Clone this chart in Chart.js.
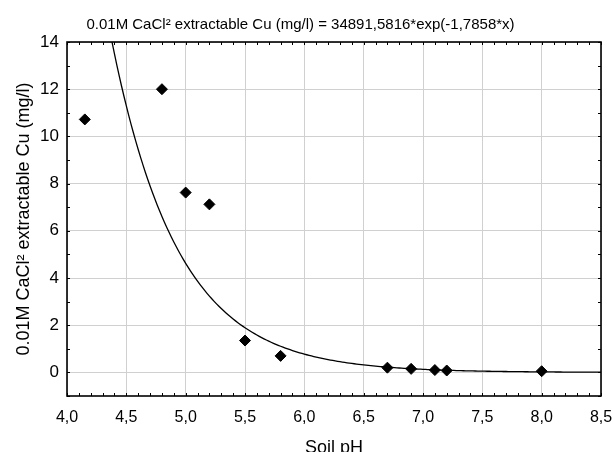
<!DOCTYPE html>
<html>
<head>
<meta charset="utf-8">
<script src="https://cdn.jsdelivr.net/npm/chart.js@4.4.1/dist/chart.umd.min.js"></script>
<style>
  html, body { margin: 0; padding: 0; background: #fff; }
  #wrap { width: 613px; height: 452px; }
</style>
</head>
<body>
<div id="wrap"><canvas id="c"></canvas></div>
<script>
// observed points (soil pH vs extractable Cu)
const soilPH = [4.15, 4.8, 5.0, 5.2, 5.5, 5.8, 6.7, 6.9, 7.1, 7.2, 8.0]
const cuValues = [10.72, 12.0, 7.62, 7.12, 1.35, 0.7, 0.2, 0.15, 0.1, 0.08, 0.05]

// fitted model printed in the title: y = a*exp(-b*x)
const fitA = 34891.5816
const fitB = 1.7858

const xTicks = [4.0, 4.5, 5.0, 5.5, 6.0, 6.5, 7.0, 7.5, 8.0, 8.5]
const yTicks = [0, 2, 4, 6, 8, 10, 12, 14]

const FONT = "'Liberation Sans', Arial, sans-serif"

const points = soilPH.map((x, i) => ({ x: x, y: cuValues[i] }))

const curve = []
for (let x = 4.3; x <= 8.501; x += 0.02) {
  curve.push({ x: x, y: fitA * Math.exp(-fitB * x) })
}

const fmt = v => v.toFixed(1).replace('.', ',')

// frame + inward minor ticks, like the original graph
const framePlugin = {
  id: 'frame',
  afterDatasetsDraw(chart) {
    const { ctx, chartArea: a, scales } = chart
    const xs = scales.x, ys = scales.y
    ctx.save()
    ctx.strokeStyle = '#000'
    ctx.lineWidth = 1
    ctx.beginPath()
    for (let i = 0; i <= 45; i++) {
      const px = Math.round(xs.getPixelForValue(4 + i * 0.1)) + 0.5
      ctx.moveTo(px, a.bottom); ctx.lineTo(px, a.bottom - 3)
      ctx.moveTo(px, a.top); ctx.lineTo(px, a.top + 3)
    }
    for (let v = -1; v <= 14; v++) {
      const py = Math.round(ys.getPixelForValue(v)) + 0.5
      ctx.moveTo(a.left, py); ctx.lineTo(a.left + 3, py)
      ctx.moveTo(a.right, py); ctx.lineTo(a.right - 3, py)
    }
    ctx.stroke()
    ctx.lineWidth = 1.6
    ctx.strokeRect(a.left, a.top, a.right - a.left, a.bottom - a.top)
    ctx.restore()
  }
}

new Chart(document.getElementById('c'), {
  type: 'scatter',
  data: {
    datasets: [
      {
        label: 'fit',
        data: curve,
        showLine: true,
        borderColor: '#000',
        borderWidth: 1.3,
        pointRadius: 0,
        tension: 0
      },
      {
        label: 'Cu',
        data: points,
        pointStyle: 'rectRot',
        pointRadius: 5.5,
        backgroundColor: '#000',
        borderColor: '#000'
      }
    ]
  },
  options: {
    responsive: true,
    maintainAspectRatio: false,
    animation: false,
    layout: { padding: { left: 0, right: 12, top: 0, bottom: 0 } },
    plugins: {
      legend: { display: false },
      tooltip: { enabled: false },
      title: {
        display: true,
        text: '0.01M CaCl\u00b2 extractable Cu (mg/l) = 34891,5816*exp(-1,7858*x)',
        color: '#000',
        font: { family: FONT, size: 15, weight: 'normal' },
        padding: { top: 16, bottom: 8 }
      }
    },
    scales: {
      x: {
        type: 'linear',
        min: 4,
        max: 8.5,
        afterBuildTicks: s => { s.ticks = xTicks.map(v => ({ value: v })) },
        afterFit: s => { s.height = 56; s.paddingLeft = 0; s.paddingRight = 0 },
        grid: { color: '#d0d0d0', borderDash: [1, 1], drawTicks: false },
        border: { display: false },
        ticks: {
          color: '#000',
          padding: 12,
          font: { family: FONT, size: 16 },
          callback: v => fmt(v)
        },
        title: {
          display: true,
          text: 'Soil pH',
          color: '#000',
          font: { family: FONT, size: 18 },
          padding: { top: 0, bottom: -7 }
        }
      },
      y: {
        min: -1,
        max: 14,
        afterBuildTicks: s => { s.ticks = yTicks.map(v => ({ value: v })) },
        afterFit: s => { s.width = 67 },
        grid: { color: '#d0d0d0', borderDash: [1, 1], drawTicks: false },
        border: { display: false },
        ticks: {
          color: '#000',
          padding: 8,
          font: { family: FONT, size: 17 }
        },
        title: {
          display: true,
          text: '0.01M CaCl\u00b2 extractable Cu (mg/l)',
          color: '#000',
          font: { family: FONT, size: 18 },
          padding: { top: 13, bottom: 0 }
        }
      }
    }
  },
  plugins: [framePlugin]
})
</script>
</body>
</html>
